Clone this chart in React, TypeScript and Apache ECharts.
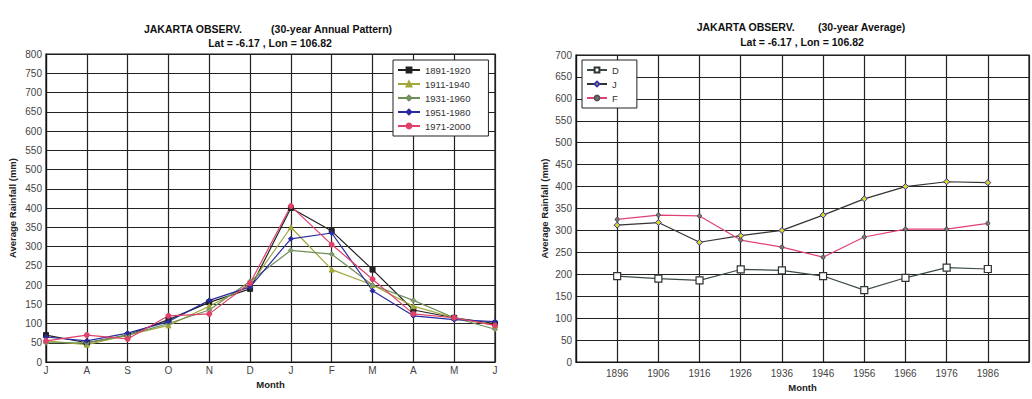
import React, { useEffect, useRef } from 'react';
import * as echarts from 'echarts';

// Left chart: 30-year annual pattern (July .. June)
const months = ['J', 'A', 'S', 'O', 'N', 'D', 'J', 'F', 'M', 'A', 'M', 'J'];
const p1891_1920 = [70, 50, 70, 110, 155, 190, 400, 340, 240, 135, 115, 100];
const p1911_1940 = [55, 45, 70, 95, 145, 200, 350, 240, 200, 145, 115, 95];
const p1931_1960 = [50, 50, 70, 100, 135, 210, 290, 280, 200, 160, 115, 85];
const p1951_1980 = [65, 55, 75, 105, 160, 195, 320, 335, 185, 120, 110, 105];
const p1971_2000 = [55, 70, 60, 120, 125, 205, 405, 305, 215, 125, 115, 95];
const leftNames = ['1891-1920', '1911-1940', '1931-1960', '1951-1980', '1971-2000'];

// Right chart: 30-year average for D, J, F
const years = ['1896', '1906', '1916', '1926', '1936', '1946', '1956', '1966', '1976', '1986'];
const edgeYears = ['1886', '1996'];
const avgD = [196, 190, 186, 211, 209, 196, 164, 192, 215, 212];
const avgJ = [312, 318, 273, 288, 300, 335, 372, 400, 411, 409];
const avgF = [325, 335, 333, 278, 262, 239, 285, 303, 303, 316];

const FONT = '"Liberation Sans", Arial, sans-serif';

export default function App() {
  const ref = useRef<HTMLDivElement>(null);
  useEffect(() => {
    document.body.style.margin = '0';
    const chart = echarts.init(ref.current!, null, { renderer: 'svg' });
    const xCats = [edgeYears[0], ...years, edgeYears[1]];
    const pad = (arr: number[]) => [null, ...arr, null];

    const gridLine = { show: true, lineStyle: { color: '#222', width: 1.2 } };
    const axisLabel = { color: '#444', fontSize: 10, fontFamily: FONT };
    const nameStyle = { color: '#222', fontSize: 9.5, fontWeight: 'bold' as const, fontFamily: FONT };
    const titleStyle = { color: '#111', fontSize: 10.5, fontWeight: 'bold' as const, fontFamily: FONT };

    const leftSeriesDef = [
      { data: p1891_1920, color: '#222', symbol: 'rect', fill: '#222' },
      { data: p1911_1940, color: '#a0a83a', symbol: 'triangle', fill: '#a0a83a' },
      { data: p1931_1960, color: '#6f8f58', symbol: 'diamond', fill: '#8a9a80' },
      { data: p1951_1980, color: '#2b2ba0', symbol: 'diamond', fill: '#2b2ba0' },
      { data: p1971_2000, color: '#e0406a', symbol: 'circle', fill: '#e0406a' },
    ];

    const legendBase = {
      orient: 'vertical',
      top: 60,
      itemGap: 2,
      itemWidth: 22,
      itemHeight: 6,
      backgroundColor: '#fff',
      borderColor: '#222',
      borderWidth: 1,
      textStyle: { fontSize: 9.5, lineHeight: 12, color: '#333', fontFamily: FONT },
    };

    chart.setOption({
      animation: false,
      backgroundColor: '#fff',
      textStyle: { fontFamily: FONT },
      title: [
        { text: 'JAKARTA OBSERV.          (30-year Annual Pattern)', left: 268, top: 23, textAlign: 'center', textStyle: titleStyle, padding: 0 },
        { text: 'Lat = -6.17 , Lon = 106.82', left: 270, top: 37, textAlign: 'center', textStyle: titleStyle, padding: 0 },
        { text: 'JAKARTA OBSERV.        (30-year Average)', left: 801, top: 21, textAlign: 'center', textStyle: titleStyle, padding: 0 },
        { text: 'Lat = -6.17 , Lon = 106.82', left: 802, top: 36, textAlign: 'center', textStyle: titleStyle, padding: 0 },
      ],
      legend: [
        { ...legendBase, data: leftNames, left: 393, padding: [4, 18, 4, 4] },
        { ...legendBase, data: ['D', 'J', 'F'], left: 582, itemWidth: 20, padding: [4, 18, 4, 4] },
      ],
      grid: [
        { left: 46, top: 54, width: 449, height: 308, show: true, borderColor: '#111', borderWidth: 1.2, backgroundColor: '#fff' },
        { left: 576, top: 55, width: 455, height: 307, show: true, borderColor: '#111', borderWidth: 1.2, backgroundColor: '#fff' },
      ],
      xAxis: [
        {
          gridIndex: 0,
          type: 'category',
          data: months,
          boundaryGap: false,
          name: 'Month',
          nameLocation: 'middle',
          nameGap: 17,
          nameTextStyle: nameStyle,
          axisLine: { lineStyle: { color: '#111', width: 1.2 } },
          axisTick: { show: false },
          axisLabel: { ...axisLabel, margin: 3, interval: 0, showMaxLabel: true },
          splitLine: { ...gridLine, interval: 0 },
        },
        {
          gridIndex: 1,
          type: 'category',
          data: xCats,
          boundaryGap: false,
          name: 'Month',
          nameLocation: 'middle',
          nameGap: 20,
          nameTextStyle: nameStyle,
          axisLine: { lineStyle: { color: '#111', width: 1.2 } },
          axisTick: { show: false },
          axisLabel: {
            ...axisLabel,
            margin: 6,
            interval: 0,
            formatter: (v: string) => (edgeYears.includes(v) ? '' : v),
          },
          splitLine: { ...gridLine, interval: 0 },
        },
      ],
      yAxis: [
        {
          gridIndex: 0,
          type: 'value',
          min: 0,
          max: 800,
          interval: 50,
          name: 'Average Rainfall (mm)',
          nameLocation: 'middle',
          nameGap: 29,
          nameTextStyle: nameStyle,
          axisLine: { show: true, lineStyle: { color: '#111', width: 1.2 } },
          axisTick: { show: false },
          axisLabel: { ...axisLabel, margin: 4 },
          splitLine: gridLine,
        },
        {
          gridIndex: 1,
          type: 'value',
          min: 0,
          max: 700,
          interval: 50,
          name: 'Average Rainfall (mm)',
          nameLocation: 'middle',
          nameGap: 27,
          nameTextStyle: nameStyle,
          axisLine: { show: true, lineStyle: { color: '#111', width: 1.2 } },
          axisTick: { show: false },
          axisLabel: { ...axisLabel, margin: 4 },
          splitLine: gridLine,
        },
      ],
      series: [
        ...leftSeriesDef.map((s, i) => ({
          name: leftNames[i],
          type: 'line',
          xAxisIndex: 0,
          yAxisIndex: 0,
          data: s.data,
          symbol: s.symbol,
          symbolSize: 5,
          lineStyle: { color: s.color, width: 1.2 },
          itemStyle: { color: s.fill, borderColor: s.color, borderWidth: 1 },
        })),
        {
          name: 'D',
          type: 'line',
          xAxisIndex: 1,
          yAxisIndex: 1,
          data: pad(avgD),
          symbol: 'rect',
          symbolSize: 7,
          lineStyle: { color: '#3a4a48', width: 1.2 },
          itemStyle: { color: '#fff', borderColor: '#333', borderWidth: 1.2 },
        },
        {
          name: 'J',
          type: 'line',
          xAxisIndex: 1,
          yAxisIndex: 1,
          data: pad(avgJ),
          symbol: 'diamond',
          symbolSize: 6,
          lineStyle: { color: '#333', width: 1.2 },
          itemStyle: { color: '#d8d820', borderColor: '#3333b0', borderWidth: 1 },
        },
        {
          name: 'F',
          type: 'line',
          xAxisIndex: 1,
          yAxisIndex: 1,
          data: pad(avgF),
          symbol: 'circle',
          symbolSize: 4,
          lineStyle: { color: '#e0407a', width: 1.2 },
          itemStyle: { color: '#777', borderColor: '#555', borderWidth: 1 },
        },
      ],
    });
    return () => chart.dispose();
  }, []);
  return <div ref={ref} style={{ width: 1032, height: 399, background: '#fff' }} />;
}
